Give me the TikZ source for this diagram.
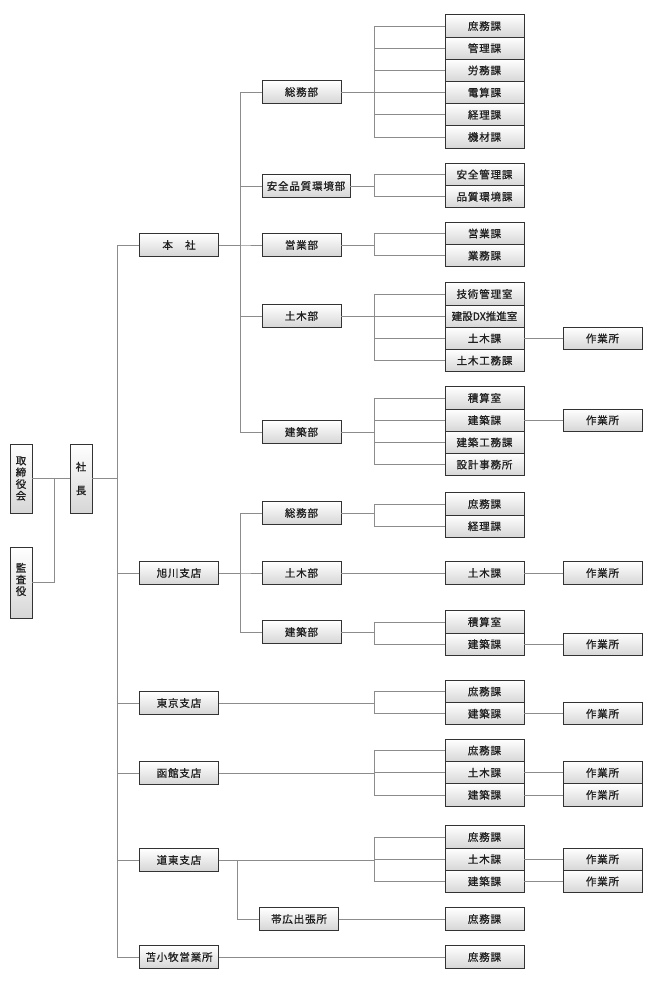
\documentclass[tikz,border=0pt]{standalone}
\usepackage{fontspec}
\setmainfont{Noto Sans CJK JP}[LetterSpace=8,FakeBold=0.8]
\begin{document}
\begin{tikzpicture}[x=1pt,y=-1pt,
  box/.style={draw=black!80, line width=0.9pt, top color=white, bottom color=black!16,
    minimum width=79pt, minimum height=22.2pt, inner sep=0pt,
    font=\fontsize{10.5}{11.7}\selectfont, text=black!88},
  conn/.style={draw=black!45, line width=0.8pt}]
\useasboundingbox (0,0) rectangle (650,988);
% left
\node[box, minimum width=22pt, minimum height=69pt, align=center] (kaigi) at (21,478.5) {取\\締\\役\\会};
\node[box, minimum width=22pt, minimum height=71pt, align=center] (kansa) at (21,582.5) {\\[-9pt]監\\査\\役};
\node[box, minimum width=22pt, minimum height=69pt, align=center] (shacho) at (81,478.5) {社\\[12pt]長};
\coordinate (vk) at (54,0);
\coordinate (v1) at (117,0);
\coordinate (v2) at (240,0);
\coordinate (vob) at (237,0);
\coordinate (v3) at (374,0);
% level 1
\node[box] (honsha) at (179,245) {本　社};
\node[box] (asahi) at (179,573) {旭川支店};
\node[box] (tokyo) at (179,703) {東京支店};
\node[box] (hakodate) at (179,773) {函館支店};
\node[box] (doto) at (179,860) {道東支店};
\node[box] (toma) at (179,957) {苫小牧営業所};
% level 2
\node[box] (hs1) at (301.5,92) {総務部};
\node[box, minimum width=88pt] (hs2) at (306,186) {安全品質環境部};
\node[box] (hs3) at (301.5,245) {営業部};
\node[box] (hs4) at (301.5,316) {土木部};
\node[box] (hs5) at (301.5,432) {建築部};
\node[box] (as1) at (301.5,513) {総務部};
\node[box] (as2) at (301.5,573) {土木部};
\node[box] (as3) at (301.5,632) {建築部};
\node[box] (obi) at (299,919) {帯広出張所};
% level 3
\node[box] (a1) at (484.5,26) {庶務課};
\node[box] (a2) at (484.5,48.2) {管理課};
\node[box] (a3) at (484.5,70.4) {労務課};
\node[box] (a4) at (484.5,92.6) {電算課};
\node[box] (a5) at (484.5,114.8) {経理課};
\node[box] (a6) at (484.5,137) {機材課};
\node[box] (b1) at (484.5,174.5) {安全管理課};
\node[box] (b2) at (484.5,196.7) {品質環境課};
\node[box] (c1) at (484.5,233.5) {営業課};
\node[box] (c2) at (484.5,255.7) {業務課};
\node[box] (d1) at (484.5,294) {技術管理室};
\node[box] (d2) at (484.5,316.2) {\addfontfeatures{LetterSpace=0}建設DX推進室};
\node[box] (d3) at (484.5,338.4) {土木課};
\node[box] (d4) at (484.5,360.6) {土木工務課};
\node[box] (e1) at (484.5,398) {積算室};
\node[box] (e2) at (484.5,420.2) {建築課};
\node[box] (e3) at (484.5,442.4) {建築工務課};
\node[box] (e4) at (484.5,464.6) {設計事務所};
\node[box] (f1) at (484.5,504) {庶務課};
\node[box] (f2) at (484.5,526.2) {経理課};
\node[box] (g1) at (484.5,573) {土木課};
\node[box] (h1) at (484.5,622) {積算室};
\node[box] (h2) at (484.5,644.2) {建築課};
\node[box] (i1) at (484.5,691.5) {庶務課};
\node[box] (i2) at (484.5,713.7) {建築課};
\node[box] (j1) at (484.5,750.5) {庶務課};
\node[box] (j2) at (484.5,772.7) {土木課};
\node[box] (j3) at (484.5,794.9) {建築課};
\node[box] (k1) at (484.5,837) {庶務課};
\node[box] (k2) at (484.5,859.2) {土木課};
\node[box] (k3) at (484.5,881.4) {建築課};
\node[box] (l1) at (484.5,919) {庶務課};
\node[box] (m1) at (484.5,957) {庶務課};
% level 4
\node[box] (w1) at (602.5,338.4) {作業所};
\node[box] (w2) at (602.5,420.2) {作業所};
\node[box] (w3) at (602.5,573) {作業所};
\node[box] (w4) at (602.5,644.2) {作業所};
\node[box] (w5) at (602.5,713.7) {作業所};
\node[box] (w6) at (602.5,772.7) {作業所};
\node[box] (w7) at (602.5,794.9) {作業所};
\node[box] (w8) at (602.5,859.2) {作業所};
\node[box] (w9) at (602.5,881.4) {作業所};
% connectors
\draw[conn] (kaigi.east) -- (shacho.west);
\draw[conn] (kaigi.east -| vk) |- (kansa.east);
\draw[conn] (shacho.east) -- (shacho.east -| v1);
\foreach \c in {honsha,asahi,tokyo,hakodate,doto,toma}
  \draw[conn] (shacho.east -| v1) |- (\c.west);
\foreach \c in {hs1,hs2,hs3,hs4,hs5}
  \draw[conn] (honsha.east) -- (honsha.east -| v2) |- (\c.west);
\foreach \c in {as1,as2,as3}
  \draw[conn] (asahi.east) -- (asahi.east -| v2) |- (\c.west);
\draw[conn] (doto.east -| vob) |- (obi.west);
\foreach \p/\c in {hs1/a1,hs1/a2,hs1/a3,hs1/a4,hs1/a5,hs1/a6,hs2/b1,hs2/b2,hs3/c1,hs3/c2,
  hs4/d1,hs4/d2,hs4/d3,hs4/d4,hs5/e1,hs5/e2,hs5/e3,hs5/e4,as1/f1,as1/f2,as3/h1,as3/h2,
  tokyo/i1,tokyo/i2,hakodate/j1,hakodate/j2,hakodate/j3,doto/k1,doto/k2,doto/k3}
  \draw[conn] (\p.east) -- (\p.east -| v3) |- (\c.west);
\draw[conn] (as2.east) -- (g1.west);
\draw[conn] (obi.east) -- (l1.west);
\draw[conn] (toma.east) -- (m1.west);
\foreach \a/\b in {d3/w1,e2/w2,g1/w3,h2/w4,i2/w5,j2/w6,j3/w7,k2/w8,k3/w9}
  \draw[conn] (\a.east) -- (\b.west);
\end{tikzpicture}
\end{document}
